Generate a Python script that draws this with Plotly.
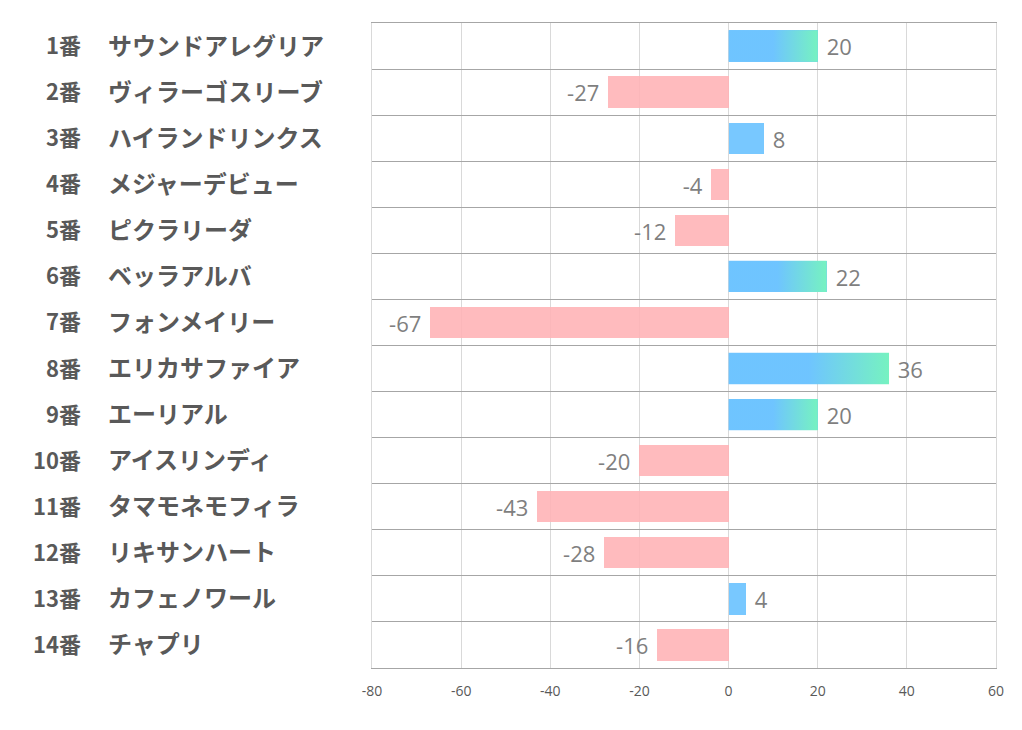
import plotly.graph_objects as go

numbers = ["1番", "2番", "3番", "4番", "5番", "6番", "7番", "8番", "9番", "10番", "11番", "12番", "13番", "14番"]
names = ["サウンドアレグリア", "ヴィラーゴスリーブ", "ハイランドリンクス", "メジャーデビュー", "ピクラリーダ",
         "ベッラアルバ", "フォンメイリー", "エリカサファイア", "エーリアル", "アイスリンディ",
         "タマモネモフィラ", "リキサンハート", "カフェノワール", "チャプリ"]
values = [20, -27, 8, -4, -12, 22, -67, 36, 20, -20, -43, -28, 4, -16]
x_ticks = [-80, -60, -40, -20, 0, 20, 40, 60]
x_tick_text = ["-80", "-60", "-40", "-20", "0", "20", "40", "60"]

BLUE = "rgba(110,196,255,0.93)"
PINK = "rgba(255,178,181,0.88)"
GREEN = "rgba(118,245,188,0.93)"
BAR_W = 0.68
NB = "\u00a0"

pos = list(range(len(values)))
colors = [BLUE if v > 0 else PINK for v in values]
labels = [(NB + str(v)) if v > 0 else (str(v) + NB) for v in values]

fig = go.Figure()
fig.add_trace(go.Bar(
    x=values, y=pos, orientation="h", width=BAR_W,
    marker=dict(color=colors, line=dict(width=0)),
    text=labels, textposition="outside",
    textfont=dict(size=22, color="#7f7f7f", family="Open Sans, Liberation Sans"),
    constraintext="none", cliponaxis=False, showlegend=False, hoverinfo="skip",
))

# gradient overlay for long positive bars
for i, v in enumerate(values):
    if v >= 20:
        h = BAR_W / 2
        fig.add_trace(go.Scatter(
            x=[0, v, v, 0, 0], y=[i - h, i - h, i + h, i + h, i - h],
            mode="lines", line=dict(width=0), fill="toself",
            fillgradient=dict(type="horizontal",
                              colorscale=[[0, BLUE], [0.5, BLUE], [1, GREEN]]),
            showlegend=False, hoverinfo="skip",
        ))

OFF = 8  # page body offset
L, R, T, B = 372 - OFF, 34, 23 - OFF, 70
W = 1022 - L - R
for i, (n, nm) in enumerate(zip(numbers, names)):
    fig.add_annotation(x=(83 - OFF - L) / W, y=i, xref="paper", yref="y", text="<b>" + n + "</b>",
                       showarrow=False, xanchor="right", yanchor="middle", yshift=2,
                       font=dict(size=22, color="#595959", family="Noto Sans CJK JP"))
    fig.add_annotation(x=(106 - OFF - L) / W, y=i, xref="paper", yref="y", text="<b>" + nm + "</b>",
                       showarrow=False, xanchor="left", yanchor="middle", yshift=2,
                       font=dict(size=24, color="#595959", family="Noto Sans CJK JP"))

fig.update_layout(
    width=1022, height=730,
    margin=dict(l=L, r=R, t=T, b=B),
    paper_bgcolor="white", plot_bgcolor="white",
    font=dict(family="Noto Sans CJK JP"),
    xaxis=dict(range=[-80, 60], tickvals=x_ticks, ticktext=x_tick_text, showgrid=True,
               gridcolor="#d9d9d9", gridwidth=1, zeroline=False, showline=True, mirror=True,
               linecolor="#a6a6a6",
               tickfont=dict(size=14, color="#595959", family="Liberation Sans Narrow, Open Sans"),
               ticks="outside", ticklen=10, tickcolor="rgba(0,0,0,0)"),
    yaxis=dict(range=[13.5, -0.5], tickvals=[k - 0.5 for k in range(len(values) + 1)],
               showticklabels=False, showgrid=True, gridcolor="#a6a6a6", gridwidth=1,
               zeroline=False, showline=True, mirror=True, linecolor="#d9d9d9"),
    bargap=0,
)

fig.write_html("out.html")
